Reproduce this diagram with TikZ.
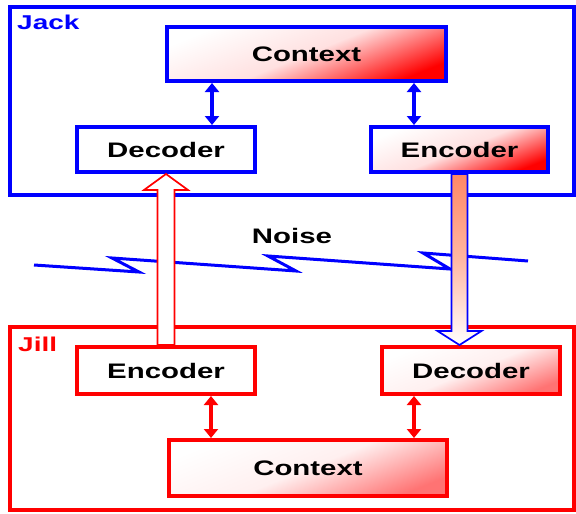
\documentclass[tikz,border=0pt]{standalone}
\usepackage{fontspec}
\setmainfont{Liberation Sans}
\usepackage{graphicx}
\usetikzlibrary{arrows.meta,calc}
\definecolor{salmon}{RGB}{255,135,100}
\newcommand{\wtext}[1]{\scalebox{1.4}[1]{\bfseries #1}}
\begin{document}
\begin{tikzpicture}[x=1pt,y=-1pt,
  frame/.style={draw=#1, line width=4pt, inner sep=0pt},
  box/.style={draw=#1, line width=4pt, inner sep=0pt, text=black,
    font=\fontsize{21}{21}\selectfont},
  hotshade/.style={top color=white, bottom color=red, middle color=red!12, shading angle=22},
  softshade/.style={top color=white, bottom color=red!55, middle color=red!6, shading angle=22},
  framelabel/.style={anchor=west, inner sep=0pt, text=#1, font=\fontsize{20}{20}\selectfont},
  dbl/.style={draw=#1, line width=4pt, {Triangle[width=14pt,length=9pt]}-{Triangle[width=14pt,length=9pt]}},
  noise/.style={draw=blue, line width=3pt, line join=miter},
  blockarrow/.style={draw=#1, line width=1.7pt, line join=miter}
]
\useasboundingbox (0,0) rectangle (576,514);

% frames
\node[frame=blue, minimum width=564pt, minimum height=188pt] (jack) at (292,101) {};
\node[frame=red, minimum width=564pt, minimum height=183pt] (jill) at (292,418.5) {};
\node[framelabel=blue] (jacklabel) at (17,22) {\wtext{Jack}};
\node[framelabel=red] (jilllabel) at (18,344) {\wtext{Jill}};

% noise
\node[inner sep=0pt, font=\fontsize{21}{21}\selectfont] (noiselabel) at (292,236) {\wtext{Noise}};
\draw[noise] (34,265) -- (139,272) -- (112,258) -- (296,271) -- (268,256) -- (450,269) -- (423,253) -- (528,261);

% Jack boxes
\node[box=blue, hotshade, minimum width=279pt, minimum height=54pt] (jackctx) at (306.5,54) {\wtext{Context}};
\node[box=blue, fill=white, minimum width=178pt, minimum height=45pt] (jackdec) at (166,149.5) {\wtext{Decoder}};
\node[box=blue, hotshade, minimum width=177pt, minimum height=45pt] (jackenc) at (459.5,149.5) {\wtext{Encoder}};

% Jill boxes
\node[box=red, fill=white, minimum width=178pt, minimum height=47pt] (jillenc) at (166,370.5) {\wtext{Encoder}};
\node[box=red, softshade, minimum width=178pt, minimum height=47pt] (jilldec) at (471,370.5) {\wtext{Decoder}};
\node[box=red, softshade, minimum width=278pt, minimum height=56pt] (jillctx) at (308,468) {\wtext{Context}};

% double arrows
\draw[dbl=blue] ([xshift=-94.5]jackctx.south) -- ([xshift=46]jackdec.north);
\draw[dbl=blue] ([xshift=107.5]jackctx.south) -- ([xshift=-45.5]jackenc.north);
\draw[dbl=red] ([xshift=45]jillenc.south) -- ([xshift=-97]jillctx.north);
\draw[dbl=red] ([xshift=-57]jilldec.south) -- ([xshift=106]jillctx.north);

% block arrow Jill encoder -> Jack decoder
\path (jackdec.south) coordinate (rtip) (jillenc.north) coordinate (rbase);
\draw[blockarrow=red, fill=white]
  (rtip) -- ($(rtip)+(22,16)$) -- ($(rtip)+(8.5,16)$) -- ($(rbase)+(8.5,0)$)
  -- ($(rbase)+(-8.5,0)$) -- ($(rtip)+(-8.5,16)$) -- ($(rtip)+(-22,16)$) -- cycle;

% block arrow Jack encoder -> Jill decoder
\path (jackenc.south) coordinate (btop) (jackenc.south |- jilldec.north) coordinate (btip);
\draw[blockarrow=blue, top color=salmon, bottom color=white, middle color=salmon!60]
  ($(btop)+(-8,0)$) -- ($(btip)+(-8,-14)$) -- ($(btip)+(-22,-14)$) -- (btip)
  -- ($(btip)+(22,-14)$) -- ($(btip)+(8,-14)$) -- ($(btop)+(8,0)$) -- cycle;
\end{tikzpicture}
\end{document}
